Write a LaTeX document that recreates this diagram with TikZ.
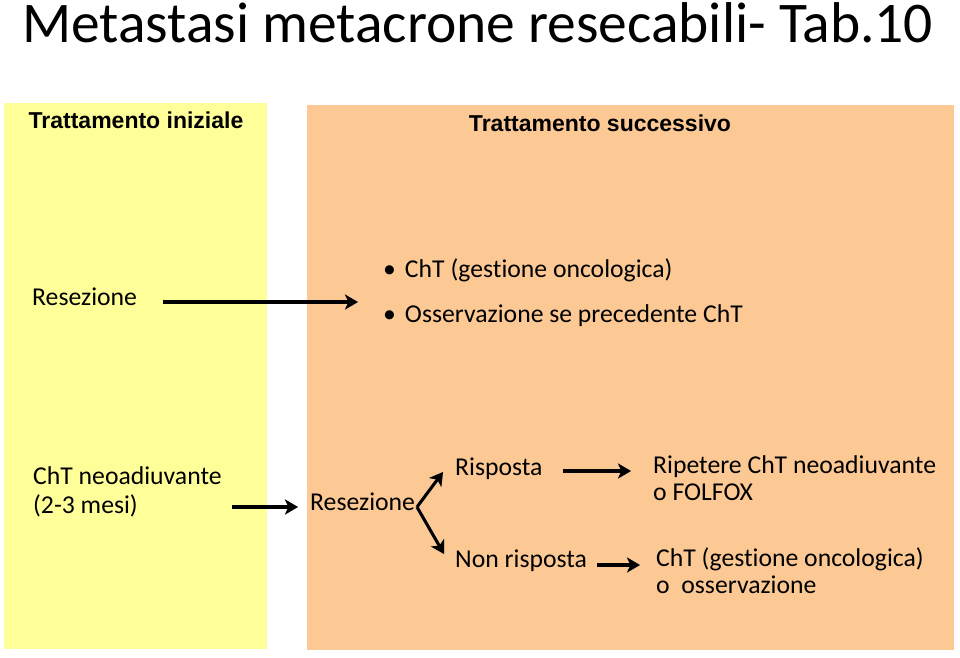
\documentclass[tikz,border=0pt]{standalone}
\usepackage{fontspec}
\setmainfont{Carlito}[Ligatures=NoCommon]
\newfontfamily\hdrfont{Liberation Sans}
\usetikzlibrary{arrows.meta}
\definecolor{panelyellow}{HTML}{FFFF99}
\definecolor{panelpeach}{HTML}{FCC995}
\tikzset{
  txt/.style={anchor=base west, inner sep=0pt, font=\fontsize{25.7}{30}\selectfont},
  hdr/.style={anchor=base, inner sep=0pt, font=\hdrfont\bfseries\fontsize{23}{27}\selectfont},
  bigarrow/.style={line width=3.8pt, -{Stealth[length=13pt,width=15pt,inset=3.5pt]}},
  shadowarrow/.style={line width=3.8pt, black!35, -{Stealth[length=13pt,width=15pt,inset=3.5pt]}},
}
\begin{document}
\begin{tikzpicture}[x=1pt,y=-1pt]
\useasboundingbox (0,0) rectangle (960,657);
% panels
\fill[panelyellow] (4,103) rectangle (267,649);
\fill[panelpeach] (307,105) rectangle (954,650);
% title
\node[anchor=base west, inner sep=0pt, font=\fontsize{57.5}{60}\selectfont] (title) at (22,42) {Metastasi metacrone resecabili- Tab.10};
% headers
\node[hdr] (h1) at (136,128) {Trattamento iniziale};
\node[hdr] (h2) at (600,131) {Trattamento successivo};
% row 1
\node[txt] (res1) at (32,305) {Resezione};
\node[txt] (b1) at (383,277) {\textbullet\hspace{0.35em}ChT (gestione oncologica)};
\node[txt] (b2) at (383,322) {\textbullet\hspace{0.35em}Osservazione se precedente ChT};
\coordinate (a1s) at (163,302);
\coordinate (a1e) at (358,302);
% row 2
\node[txt, align=left, anchor=north west] (neo) at (33,466) {ChT neoadiuvante\\[-0.5pt](2-3 mesi)};
\node[txt] (res2) at (310,510) {Resezione};
\node[txt] (risp) at (455,475) {Risposta};
\node[txt] (nonr) at (455,567) {Non risposta};
\node[txt, align=left, anchor=north west] (rip) at (653,455) {Ripetere ChT neoadiuvante\\[-3pt]o FOLFOX};
\node[txt, align=left, anchor=north west] (cht) at (656,547) {ChT (gestione oncologica)\\[-3pt]o\ \ osservazione};
\coordinate (a2s) at (232,507);
\coordinate (a2e) at (298,507);
\coordinate (v) at (417,507);
\coordinate (up) at (443,472);
\coordinate (dn) at (444,554);
\coordinate (a3s) at (563,471);
\coordinate (a3e) at (631,471);
\coordinate (a4s) at (597,565);
\coordinate (a4e) at (640,565);
% arrow shadows
\begin{scope}[shift={(1.5,1.5)}]
\draw[shadowarrow] (a1s) -- (a1e);
\draw[shadowarrow] (a2s) -- (a2e);
\draw[shadowarrow, line width=3pt] (v) -- (up);
\draw[shadowarrow, line width=3pt] (v) -- (dn);
\draw[shadowarrow] (a3s) -- (a3e);
\draw[shadowarrow] (a4s) -- (a4e);
\end{scope}
% arrows
\draw[bigarrow] (a1s) -- (a1e);
\draw[bigarrow] (a2s) -- (a2e);
\draw[bigarrow, line width=3pt] (v) -- (up);
\draw[bigarrow, line width=3pt] (v) -- (dn);
\draw[bigarrow] (a3s) -- (a3e);
\draw[bigarrow] (a4s) -- (a4e);
\end{tikzpicture}
\end{document}
